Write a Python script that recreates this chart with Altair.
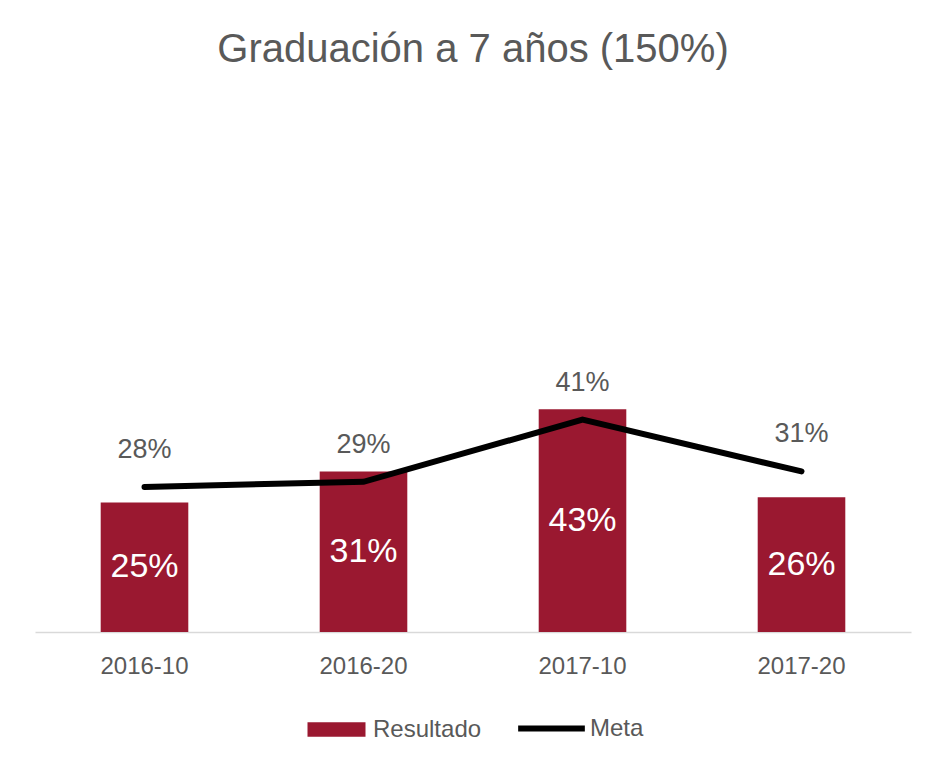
import altair as alt
import pandas as pd

periodos = ["2016-10", "2016-20", "2017-10", "2017-20"]
resultado = [0.25, 0.31, 0.43, 0.26]
meta = [0.28, 0.29, 0.41, 0.31]

df = pd.DataFrame({
    "periodo": periodos,
    "resultado": resultado,
    "meta": meta,
    "serie_r": ["Resultado"] * len(periodos),
    "serie_m": ["Meta"] * len(periodos),
})

FONT = "Liberation Sans"
GRAY = "#595959"
MAROON = "#9A1830"

x = alt.X(
    "periodo:N", sort=periodos, title=None,
    scale=alt.Scale(paddingInner=0.6, paddingOuter=0.3),
    axis=alt.Axis(labelAngle=0, ticks=False, domainColor="#D9D9D9", domainWidth=1.5,
                  labelColor=GRAY, labelFontSize=24, labelPadding=22, labelFont=FONT),
)
yscale = alt.Scale(domain=[0, 1])

base = alt.Chart(df)

bars = base.mark_bar().encode(
    x=x,
    y=alt.Y("resultado:Q", scale=yscale, axis=None),
    fill=alt.Fill("serie_r:N", scale=alt.Scale(domain=["Resultado"], range=[MAROON]),
                  legend=alt.Legend(title=None, orient="none", legendX=287, legendY=601,
                                    symbolType="M-2,-0.5H2V0.5H-2Z", symbolSize=841,
                                    symbolStrokeWidth=0, labelFont=FONT, labelFontSize=24,
                                    labelColor=GRAY, labelOffset=22)),
)

bar_labels = base.transform_calculate(mid="datum.resultado / 2").mark_text(
    color="white", fontSize=34, font=FONT, baseline="middle"
).encode(
    x=x,
    y=alt.Y("mid:Q", scale=yscale),
    text=alt.Text("resultado:Q", format=".0%"),
)

line = base.mark_line(strokeWidth=6, strokeCap="round").encode(
    x=x,
    y=alt.Y("meta:Q", scale=yscale),
    stroke=alt.Stroke("serie_m:N", scale=alt.Scale(domain=["Meta"], range=["#000000"]),
                      legend=alt.Legend(title=None, orient="none", legendX=499, legendY=597,
                                        symbolType="M-2.3,0H2.3", symbolSize=841,
                                        symbolStrokeWidth=6, labelFont=FONT, labelFontSize=24,
                                        labelColor=GRAY, labelOffset=21)),
)

line_labels = base.mark_text(
    color=GRAY, fontSize=27, font=FONT, baseline="middle", dy=-37
).encode(
    x=x,
    y=alt.Y("meta:Q", scale=yscale),
    text=alt.Text("meta:Q", format=".0%"),
)

chart = alt.layer(bars, line, bar_labels, line_labels).properties(
    width=876, height=518,
    background="white",
    title=alt.Title("Graduación a 7 años (150%)", fontSize=40, color=GRAY, font=FONT,
                    fontWeight="normal", anchor="middle", baseline="alphabetic", offset=12),
    autosize=alt.AutoSizeParams(type="none"),
    padding={"left": 35, "top": 114, "right": 33, "bottom": 141},
).configure_view(strokeWidth=0, stroke="transparent")

chart.save("out.html", embed_options={"renderer": "svg", "actions": False})
